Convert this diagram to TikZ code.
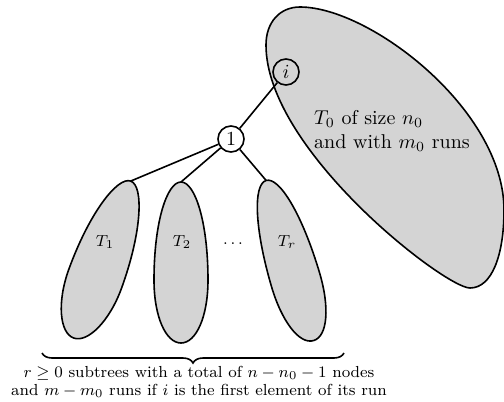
\documentclass[tikz,border=0pt]{standalone}
\usetikzlibrary{decorations.pathreplacing}
\begin{document}
\begin{tikzpicture}[x=0.5pt,y=-0.5pt,
  blob/.style={draw,thick,fill=black!17},
  vert/.style={circle,draw,thick,minimum size=13pt,inner sep=0pt},
  sublabel/.style={font=\footnotesize},
  edge/.style={thick},
  pics/egg/.style n args={4}{code={
    \filldraw[blob] (0,-#1) .. controls (14,-#1) and (#3,-40) .. (#3,#4)
      .. controls (#3,55) and (15,#2) .. (0,#2)
      .. controls (-15,#2) and (-#3,55) .. (-#3,#4)
      .. controls (-#3,-40) and (-14,-#1) .. cycle;
    \coordinate (-top) at (0,-#1);}}]
\useasboundingbox (0,0) rectangle (504,402);
% big subtree T0
\filldraw[blob] (266,45) .. controls (266,22) and (280,7) .. (300,7)
  .. controls (370,7) and (504,110) .. (504,210)
  .. controls (504,255) and (492,288) .. (470,288)
  .. controls (445,288) and (266,150) .. cycle;
\node[align=left] (T0text) at (392,131) {$T_0$ of size $n_0$\\and with $m_0$ runs};
% vertices
\node[vert] (i) at (286,72) {$i$};
\node[vert,fill=white] (one) at (231,139) {$1$};
% subtrees
\pic[rotate=-20] (T1) at (102,260) {egg={84}{83}{28}{20}};
\pic (T2) at (181,262) {egg={80}{81}{27}{18}};
\pic[rotate=16.5] (Tr) at (290,261) {egg={84}{83}{25}{20}};
\node[sublabel] (T1l) at (105,242) {$T_1$};
\node[sublabel] (T2l) at (182,242) {$T_2$};
\node[sublabel] (dots) at (233,244) {$\dots$};
\node[sublabel] (Trl) at (287,242) {$T_r$};
% edges
\draw[edge] (one) -- (i);
\draw[edge] (one) -- (T1-top);
\draw[edge] (one) -- (T2-top);
\draw[edge] (one) -- (Tr-top);
% brace
\coordinate (bl) at (42,353);
\coordinate (br) at (344,353);
\draw[thick,decorate,decoration={brace,amplitude=5pt}] (br) -- (bl);
\node[align=center,font=\fontsize{8}{9}\selectfont] (lbl) at (199,382) {$r\geq 0$ subtrees with a total of $n-n_0-1$ nodes\\and $m-m_0$ runs if $i$ is the first element of its run};
\end{tikzpicture}
\end{document}
